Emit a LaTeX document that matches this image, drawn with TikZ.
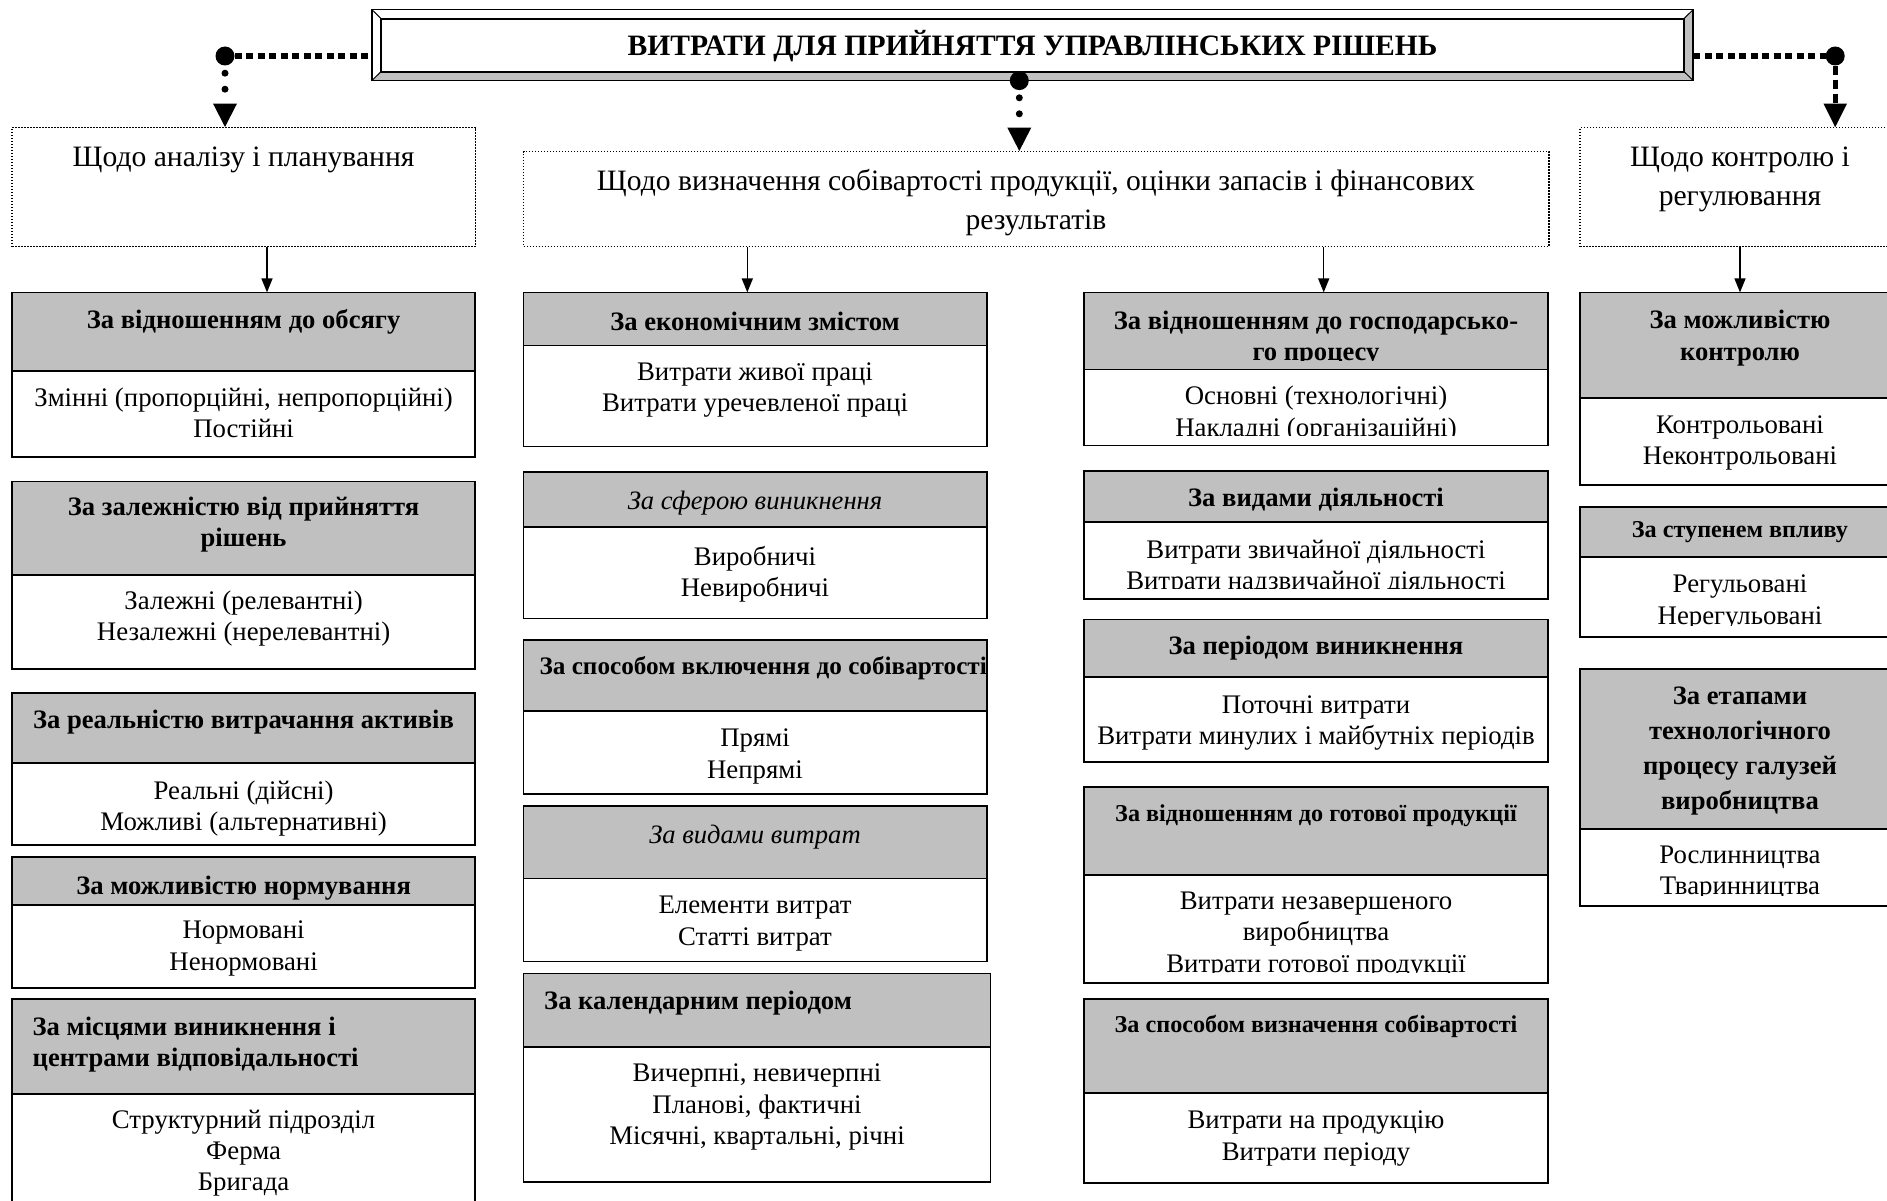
\documentclass[tikz,border=0pt]{standalone}
\usepackage{fontspec}
\setmainfont{Liberation Serif}
\usetikzlibrary{arrows.meta}

\definecolor{hdrgray}{RGB}{192,192,192}

\begin{document}
\begin{tikzpicture}[x=1pt, y=1pt, >=Triangle,
  hdr/.style={draw, fill=hdrgray, line width=1.8pt, anchor=north west, inner sep=0pt, outer sep=0pt, minimum width=463.3pt},
  bdy/.style={draw, fill=white, line width=1.8pt, anchor=north west, inner sep=0pt, outer sep=0pt, minimum width=463.3pt},
  htxt/.style={font=\fontsize{26.6}{31.3}\selectfont\bfseries, align=center, inner sep=0pt, yshift=-1.5pt},
  hsmall/.style={font=\fontsize{24.2}{29}\selectfont\bfseries, align=center, inner sep=0pt, yshift=-1.5pt},
  hital/.style={font=\fontsize{26.6}{31.3}\selectfont\itshape, align=center, inner sep=0pt, yshift=-2pt},
  btxt/.style={font=\fontsize{26.8}{31.3}\selectfont, align=center, inner sep=0pt, yshift=-2.5pt},
  lvl/.style={draw, line width=1.5pt, dash pattern=on 1.5pt off 1.5pt, anchor=north west, inner sep=0pt, outer sep=0pt},
  ltxt/.style={font=\fontsize{29.6}{39.5}\selectfont, align=center, inner sep=0pt, yshift=-3pt},
  arr/.style={->, line width=1.5pt, >={Triangle[length=14pt, width=11pt]}},
  bigdot/.style={circle, fill, inner sep=0pt, minimum size=19pt},
  sqline/.style={line width=5.5pt, dash pattern=on 7pt off 4.5pt},
  rdline/.style={->, line width=7pt, dash pattern=on 0pt off 16pt, dash phase=8.5pt, line cap=round, >={Triangle[length=24pt, width=22pt]}},
  sqdown/.style={->, line width=5pt, dash pattern=on 9pt off 5pt, >={Triangle[length=24pt, width=22pt]}}]
  \useasboundingbox (0,0) rectangle (1887,-1201);

  % title with bevelled frame
  \node[minimum width=1321.3pt, minimum height=71pt, inner sep=0pt, outer sep=0pt] (title) at (1032.5,-45.1) {};
  \node[minimum width=1303pt, minimum height=53pt, inner sep=0pt, outer sep=0pt] (titlein) at (1032.5,-45.1) {};
  \fill[hdrgray] (title.south west) -- (title.south east) -- (titlein.south east) -- (titlein.south west) -- cycle;
  \fill[hdrgray] (title.north east) -- (title.south east) -- (titlein.south east) -- (titlein.north east) -- cycle;
  \draw[line width=1.5pt] (title.north west) rectangle (title.south east);
  \draw[line width=2pt] (titlein.north west) rectangle (titlein.south east);
  \draw[line width=1pt] (title.north west) -- (titlein.north west) (title.south west) -- (titlein.south west)
    (title.north east) -- (titlein.north east) (title.south east) -- (titlein.south east);
  \node[font=\fontsize{29.6}{34}\selectfont\bfseries, inner sep=0pt] (titletxt) at (1032.5,-46) {ВИТРАТИ ДЛЯ ПРИЙНЯТТЯ УПРАВЛІНСЬКИХ РІШЕНЬ};

  % second level
  \node[lvl, minimum width=463.3pt, minimum height=119.1pt] (lvA) at (12,-127.6) {};
  \node[ltxt] (lvAt) at (243.6,-156.4) {Щодо аналізу і планування};
  \node[lvl, minimum width=1025.3pt, minimum height=95.1pt] (lvB) at (523.5,-151.6) {};
  \node[ltxt] (lvBt) at (1036,-199.7) {Щодо визначення собівартості продукції, оцінки запасів і фінансових\\результатів};
  \node[lvl, minimum width=330pt, minimum height=119.1pt] (lvC) at (1580.1,-127.6) {};
  \node[ltxt] (lvCt) at (1740,-176.3) {Щодо контролю і\\регулювання};

  % dotted links from the title
  \node[bigdot] (dotl) at (225,-56) {};
  \node[bigdot] (dotc) at (1019.3,-80.6) {};
  \node[bigdot] (dotr) at (1835.2,-56) {};
  \draw[sqline] (dotl) -- (title.west |- dotl);
  \draw[sqline] (title.east |- dotr) -- (dotr);
  \draw[rdline] (dotl) -- (lvA.north -| dotl);
  \draw[rdline] (dotc) -- (lvB.north -| dotc);
  \draw[sqdown] (dotr) -- (lvC.north -| dotr);

  % column 1
  \node[hdr, minimum height=78.2pt] (a1h) at (12,-292.4) {};
  \node[htxt] (a1ht) at (243.6,-320.1) {За відношенням до обсягу};
  \node[bdy, minimum height=86.7pt] (a1b) at (a1h.south west) {};
  \node[btxt] (a1bt) at (243.6,-410.3) {Змінні (пропорційні, непропорційні)\\Постійні};

  \node[hdr, minimum height=93.8pt] (a2h) at (12,-481.4) {};
  \node[htxt] (a2ht) at (243.6,-523.3) {За залежністю від прийняття\\рішень};
  \node[bdy, minimum height=93.9pt] (a2b) at (a2h.south west) {};
  \node[btxt] (a2bt) at (243.6,-616.2) {Залежні (релевантні)\\Незалежні (нерелевантні)};

  \node[hdr, minimum height=69.8pt] (a3h) at (12,-693.2) {};
  \node[htxt] (a3ht) at (243.6,-720.6) {За реальністю витрачання активів};
  \node[bdy, minimum height=81.8pt] (a3b) at (a3h.south west) {};
  \node[btxt] (a3bt) at (243.6,-805.7) {Реальні (дійсні)\\Можливі (альтернативні)};

  \node[hdr, minimum height=48.2pt] (a4h) at (12,-856.8) {};
  \node[htxt] (a4ht) at (243.6,-886.7) {За можливістю нормування};
  \node[bdy, minimum height=83pt] (a4b) at (a4h.south west) {};
  \node[btxt] (a4bt) at (243.6,-945.9) {Нормовані\\Ненормовані};

  \node[hdr, minimum height=95.1pt] (a5h) at (12,-998.8) {};
  \node[htxt, align=left, anchor=west] (a5ht) at (32.5,-1043.2) {За місцями виникнення і\\центрами відповідальності};
  \node[bdy, minimum height=120pt] (a5b) at (a5h.south west) {};
  \node[btxt] (a5bt) at (243.6,-1150.5) {Структурний підрозділ\\Ферма\\Бригада};

  % column 2
  \node[hdr, minimum height=53pt] (b1h) at (523.5,-292.4) {};
  \node[htxt] (b1ht) at (755,-320.1) {За економічним змістом};
  \node[bdy, minimum height=101.1pt] (b1b) at (b1h.south west) {};
  \node[btxt] (b1bt) at (755,-387.4) {Витрати живої праці\\Витрати уречевленої праці};

  \node[hdr, minimum height=55.3pt] (b2h) at (523.5,-471.7) {};
  \node[hital] (b2ht) at (755,-500.6) {За сферою виникнення};
  \node[bdy, minimum height=91.5pt] (b2b) at (b2h.south west) {};
  \node[btxt] (b2bt) at (755,-571.7) {Виробничі\\Невиробничі};

  \node[hdr, minimum height=71pt] (b3h) at (523.5,-640.2) {};
  \node[hsmall, font=\fontsize{25.2}{30}\selectfont\bfseries, anchor=east] (b3ht) at (987,-666.7) {За способом включення до собівартості};
  \node[bdy, minimum height=83pt] (b3b) at (b3h.south west) {};
  \node[btxt] (b3bt) at (755,-754) {Прямі\\Непрямі};

  \node[hdr, minimum height=72.2pt] (b4h) at (523.5,-806.3) {};
  \node[hital] (b4ht) at (755,-835.2) {За видами витрат};
  \node[bdy, minimum height=83pt] (b4b) at (b4h.south west) {};
  \node[btxt] (b4bt) at (755,-921.2) {Елементи витрат\\Статті витрат};

  \node[hdr, minimum width=466.9pt, minimum height=73.5pt] (b5h) at (523.5,-973.5) {};
  \node[htxt, anchor=west] (b5ht) at (544,-1001.2) {За календарним періодом};
  \node[bdy, minimum width=466.9pt, minimum height=134.7pt] (b5b) at (b5h.south west) {};
  \node[btxt] (b5bt) at (757,-1104.7) {Вичерпні, невичерпні\\Планові, фактичні\\Місячні, квартальні, річні};

  % column 3
  \node[hdr, minimum height=77pt] (c1h) at (1084.3,-292.4) {};
  \begin{scope}
    \clip (c1h.north west) rectangle ([yshift=9pt]c1h.south east);
    \node[htxt] (c1ht) at (1316,-336.8) {За відношенням до господарсько-\\го процесу};
  \end{scope}
  \node[bdy, minimum height=76pt] (c1b) at (c1h.south west) {};
  \begin{scope}
    \clip (c1b.north west) rectangle ([yshift=10pt]c1b.south east);
    \node[btxt] (c1bt) at (1316,-411.5) {Основні (технологічні)\\Накладні (організаційні)};
  \end{scope}

  \node[hdr, minimum height=51.3pt] (c2h) at (1084.3,-471) {};
  \node[htxt] (c2ht) at (1316,-498.2) {За видами діяльності};
  \node[bdy, minimum height=76.7pt] (c2b) at (c2h.south west) {};
  \begin{scope}
    \clip (c2b.north west) rectangle ([yshift=11pt]c2b.south east);
    \node[btxt] (c2bt) at (1316,-565) {Витрати звичайної діяльності\\Витрати надзвичайної діяльності};
  \end{scope}

  \node[hdr, minimum height=57.8pt] (c3h) at (1084.3,-619.5) {};
  \node[htxt] (c3ht) at (1316,-646.2) {За періодом виникнення};
  \node[bdy, minimum height=84.7pt] (c3b) at (c3h.south west) {};
  \node[btxt] (c3bt) at (1316,-720.3) {Поточні витрати\\Витрати минулих і майбутніх періодів};

  \node[hdr, minimum height=87.9pt] (c4h) at (1084.3,-787) {};
  \node[hsmall] (c4ht) at (1316,-814.7) {За відношенням до готової продукції};
  \node[bdy, minimum height=108.3pt] (c4b) at (c4h.south west) {};
  \begin{scope}
    \clip (c4b.north west) rectangle ([yshift=11pt]c4b.south east);
    \node[btxt] (c4bt) at (1316,-932.6) {Витрати незавершеного\\виробництва\\Витрати готової продукції};
  \end{scope}

  \node[hdr, minimum height=94.3pt] (c5h) at (1084.3,-999) {};
  \node[hsmall] (c5ht) at (1316,-1025.3) {За способом визначення собівартості};
  \node[bdy, minimum height=89.7pt] (c5b) at (c5h.south west) {};
  \node[btxt] (c5bt) at (1316,-1136) {Витрати на продукцію\\Витрати періоду};

  % column 4
  \node[hdr, minimum width=330pt, minimum height=105.9pt] (d1h) at (1580.1,-292.4) {};
  \node[htxt, font=\fontsize{26.6}{32.5}\selectfont\bfseries] (d1ht) at (1740,-336.4) {За можливістю\\контролю};
  \node[bdy, minimum width=330pt, minimum height=86.7pt] (d1b) at (d1h.south west) {};
  \node[btxt] (d1bt) at (1740,-440.4) {Контрольовані\\Неконтрольовані};

  \node[hdr, minimum width=330pt, minimum height=50.6pt] (d2h) at (1580.1,-506.6) {};
  \node[hsmall] (d2ht) at (1740,-530.7) {За ступенем впливу};
  \node[bdy, minimum width=330pt, minimum height=79.4pt] (d2b) at (d2h.south west) {};
  \begin{scope}
    \clip (d2b.north west) rectangle ([yshift=11pt]d2b.south east);
    \node[btxt] (d2bt) at (1740,-599.9) {Регульовані\\Нерегульовані};
  \end{scope}

  \node[hdr, minimum width=330pt, minimum height=160pt] (d3h) at (1580.1,-669.1) {};
  \node[htxt, font=\fontsize{26.6}{35}\selectfont\bfseries] (d3ht) at (1740,-749.8) {За етапами\\технологічного\\процесу галузей\\виробництва};
  \node[bdy, minimum width=330pt, minimum height=77.1pt] (d3b) at (d3h.south west) {};
  \begin{scope}
    \clip (d3b.north west) rectangle ([yshift=11pt]d3b.south east);
    \node[btxt] (d3bt) at (1740,-870.7) {Рослинництва\\Тваринництва};
  \end{scope}

  % arrows to the groups
  \coordinate (xa) at (267,0);
  \coordinate (xb) at (747.3,0);
  \coordinate (xc) at (1323.7,0);
  \coordinate (xd) at (1740,0);
  \draw[arr] (lvA.south -| xa) -- (a1h.north -| xa);
  \draw[arr] (lvB.south -| xb) -- (b1h.north -| xb);
  \draw[arr] (lvB.south -| xc) -- (c1h.north -| xc);
  \draw[arr] (lvC.south -| xd) -- (d1h.north -| xd);
\end{tikzpicture}
\end{document}
